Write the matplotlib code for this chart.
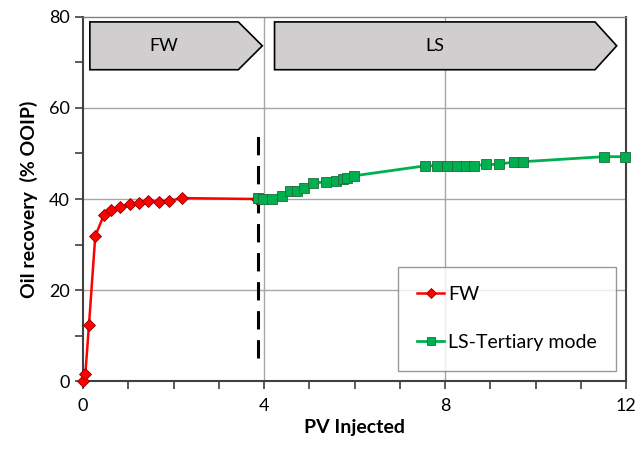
import matplotlib
matplotlib.use("Agg")
import matplotlib.pyplot as plt
from matplotlib.patches import Polygon
from matplotlib.ticker import MultipleLocator

plt.rcParams['font.family'] = ['Lato', 'DejaVu Sans']

fw_x = [0.0, 0.05, 0.13, 0.27, 0.46, 0.62, 0.82, 1.04, 1.24, 1.44, 1.68, 1.90, 2.19, 3.85]
fw_y = [0.0, 1.5, 12.3, 31.9, 36.5, 37.6, 38.2, 38.9, 39.1, 39.5, 39.4, 39.6, 40.2, 40.0]

ls_x = [3.87, 3.98, 4.18, 4.39, 4.57, 4.72, 4.89, 5.09, 5.37, 5.58, 5.75, 5.84, 5.99,
        7.56, 7.81, 8.05, 8.26, 8.46, 8.64, 8.91, 9.20, 9.52, 9.72, 11.50, 11.98]
ls_y = [40.2, 40.0, 40.0, 40.7, 41.8, 41.8, 42.4, 43.5, 43.8, 44.0, 44.4, 44.7, 45.1,
        47.3, 47.3, 47.3, 47.3, 47.3, 47.3, 47.6, 47.6, 48.2, 48.2, 49.3, 49.3]

x_ticks = [0, 4, 8, 12]
y_ticks = [0, 20, 40, 60, 80]
divider_x = 3.87
phase_labels = ["FW", "LS"]

fig = plt.figure(figsize=(6.39, 4.57), dpi=100)
ax = fig.add_axes([0.130, 0.166, 0.850, 0.797])
ax.set_xlim(0, 12)
ax.set_ylim(0, 80)

for xv in [4, 8]:
    ax.axvline(xv, color='#a6a6a6', lw=1.0, zorder=0)
for yv in [20, 40, 60]:
    ax.axhline(yv, color='#a6a6a6', lw=1.0, zorder=0)

ax.plot([divider_x, divider_x], [5, 55], color='black', lw=2.2, dashes=(6, 3.5), zorder=2)

ax.plot(fw_x, fw_y, color='#ff0000', lw=1.8, marker='D', ms=6, mfc='#ff0000',
        mec='#8b0000', mew=0.6, label='FW', zorder=3, clip_on=False)
ax.plot(ls_x, ls_y, color='#00b050', lw=2.0, marker='s', ms=7.5, mfc='#00b050',
        mec='#1e6b3a', mew=0.6, label='LS-Tertiary mode', zorder=4, clip_on=False)

# phase arrows
def arrow(x0, x1, xt, y0, y1, label):
    ym = (y0 + y1) / 2
    poly = Polygon([(x0, y0), (x1, y0), (xt, ym), (x1, y1), (x0, y1)], closed=True,
                   facecolor='#d0cece', edgecolor='black', lw=1.2, zorder=5, clip_on=False)
    ax.add_patch(poly)
    ax.text((x0 + x1) / 2, ym, label, ha='center', va='center', fontsize=13, zorder=6)

arrow(0.15, 3.43, 3.96, 68.4, 78.9, phase_labels[0])
arrow(4.23, 11.31, 11.79, 68.4, 78.9, phase_labels[1])

ax.set_xticks(x_ticks)
ax.set_yticks(y_ticks)
ax.xaxis.set_minor_locator(MultipleLocator(1))
ax.yaxis.set_minor_locator(MultipleLocator(10))
ax.tick_params(axis='both', which='major', direction='out', length=6, width=1.2,
               labelsize=13, color='#404040')
ax.tick_params(axis='both', which='minor', direction='out', length=6, width=1.2,
               color='#404040')
ax.tick_params(axis='x', pad=6)

ax.spines['left'].set_color('#404040')
ax.spines['left'].set_linewidth(1.5)
ax.spines['bottom'].set_color('#404040')
ax.spines['bottom'].set_linewidth(1.5)
ax.spines['right'].set_color('#404040')
ax.spines['right'].set_linewidth(1.5)
ax.spines['top'].set_color('#808080')
ax.spines['top'].set_linewidth(1.0)

ax.set_xlabel('PV Injected', fontsize=14, fontweight='bold', labelpad=4)
ax.set_ylabel('Oil recovery  (% OOIP)', fontsize=14, fontweight='bold', labelpad=8)

leg = ax.legend(loc='lower right', bbox_to_anchor=(0.982, 0.029), fontsize=14,
                frameon=True, fancybox=False, edgecolor='#808080', handlelength=1.4,
                handletextpad=0.2, labelspacing=1.6, borderpad=1.0, markerscale=0.8,
                borderaxespad=0)
leg.get_frame().set_linewidth(1.0)
leg.set_zorder(7)

fig.savefig('out.png', dpi=100)
